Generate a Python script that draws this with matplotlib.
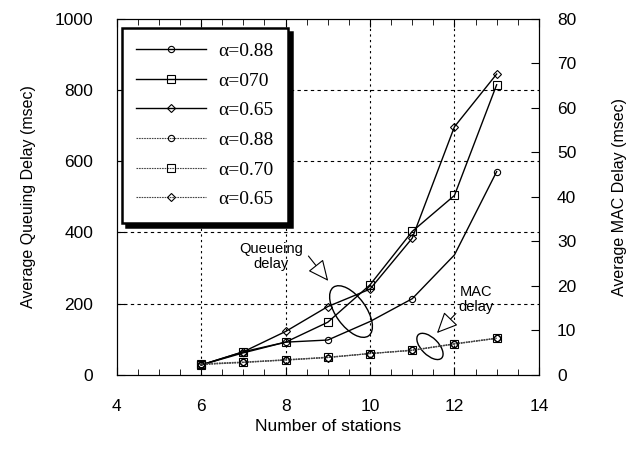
import matplotlib.pyplot as plt
import matplotlib.transforms as mtrans
from matplotlib.patches import Ellipse
from matplotlib.ticker import MultipleLocator

# numero de estacoes
estacoes = [6, 7, 8, 9, 10, 11, 12, 13]

# atraso de fila (ms) - eixo esquerdo
fila_088 = [28, 62, 92, 98, 150, 214, 337, 571]
fila_070 = [28, 65, 92, 148, 253, 403, 504, 815]
fila_065 = [28, 65, 122, 192, 241, 384, 697, 845]

# atraso MAC (ms) - eixo direito
mac_088 = [2.4, 2.8, 3.4, 3.9, 4.8, 5.5, 7.0, 8.2]
mac_070 = [2.5, 2.9, 3.4, 4.0, 4.8, 5.6, 7.0, 8.3]
mac_065 = [2.3, 2.8, 3.3, 3.9, 4.8, 5.5, 6.9, 8.2]

rotulos = ['α=0.88', 'α=070', 'α=0.65', 'α=0.88', 'α=0.70', 'α=0.65']

plt.rcParams['font.family'] = 'Liberation Sans'

fig = plt.figure(figsize=(6.31, 4.49), dpi=100)
ax = fig.add_axes([0.185, 0.165, 0.669, 0.793])
ax2 = ax.twinx()

linhas = []
# na figura original a curva de 0.88 nao mostra marcador em 10 e 12
for y, m, ms, me in [(fila_088, 'o', 4.5, [0, 1, 2, 3, 5, 7]), (fila_070, 's', 5.5, None), (fila_065, 'D', 3.8, None)]:
    l, = ax.plot(estacoes, y, color='black', lw=1.0, marker=m, ms=ms, mfc='none', mec='black', mew=0.8, markevery=me)
    linhas.append(l)
for y, m, ms in [(mac_088, 'o', 4.5), (mac_070, 's', 5.5), (mac_065, 'D', 3.8)]:
    l, = ax2.plot(estacoes, y, color='#444444', lw=0.8, ls=(0, (1.5, 0.8)), marker=m, ms=ms, mfc='none', mec='black', mew=0.8)
    linhas.append(l)

ax.set_xlim(4, 14)
ax.set_ylim(0, 1000)
ax2.set_ylim(0, 80)
ax.xaxis.set_major_locator(MultipleLocator(2))
ax.xaxis.set_minor_locator(MultipleLocator(0.5))
ax.yaxis.set_major_locator(MultipleLocator(200))
ax2.yaxis.set_major_locator(MultipleLocator(10))

ax.tick_params(axis='x', which='both', direction='in', top=True, labelsize=12.5, pad=17)
ax.tick_params(axis='x', which='major', length=6)
ax.tick_params(axis='x', which='minor', length=4)
ax.tick_params(axis='y', direction='in', length=6, labelsize=12.5, pad=17)
ax2.tick_params(axis='y', direction='in', length=6, labelsize=12.5, pad=13)

for v in [6, 8, 10, 12]:
    ax.axvline(v, color='black', lw=0.8, ls=(0, (2, 3)), zorder=0)
for v in [200, 400, 600, 800]:
    ax.axhline(v, color='black', lw=0.8, ls=(0, (3, 3)), zorder=0)

ax.set_xlabel('Number of stations', fontsize=12.5, labelpad=4)
ax.set_ylabel('Average Queuing Delay (msec)', fontsize=11.5, labelpad=13)
ax2.set_ylabel('Average MAC Delay (msec)', fontsize=11.5, labelpad=26)

leg = ax2.legend(linhas, rotulos, loc='upper left', bbox_to_anchor=(0.012, 0.975),
                 borderaxespad=0, prop={'family': 'Liberation Serif', 'size': 14},
                 handlelength=3.6, handletextpad=0.6, labelspacing=0.62, borderpad=0.75,
                 fancybox=False, shadow={'ox': 3, 'oy': -3, 'color': 'black', 'alpha': 1})
leg.get_frame().set_edgecolor('black')
leg.get_frame().set_linewidth(1.8)
leg.get_frame().set_alpha(1)

# elipses de anotacao
t1 = fig.dpi_scale_trans + mtrans.ScaledTranslation(9.55, 178, ax.transData)
ax.add_patch(Ellipse((0, 0), 0.60, 0.30, angle=-54, transform=t1, fill=False, lw=1.0, clip_on=False))
t2 = fig.dpi_scale_trans + mtrans.ScaledTranslation(11.42, 6.4, ax2.transData)
ax2.add_patch(Ellipse((0, 0), 0.33, 0.17, angle=-45, transform=t2, fill=False, lw=1.0, clip_on=False))

seta = dict(arrowstyle='-|>,head_length=1.3,head_width=0.6', fc='white', ec='black', lw=0.8)
ax.annotate('', xy=(9.05, 258), xytext=(8.5, 340), arrowprops=seta)
ax.annotate('', xy=(11.54, 112), xytext=(12.08, 178), arrowprops=seta)
ax.text(7.65, 332, 'Queueing\ndelay', ha='center', va='center', fontsize=10.5, linespacing=1.1)
ax.text(12.52, 212, 'MAC\ndelay', ha='center', va='center', fontsize=10.5, linespacing=1.1)

fig.savefig('out.png', dpi=100)
